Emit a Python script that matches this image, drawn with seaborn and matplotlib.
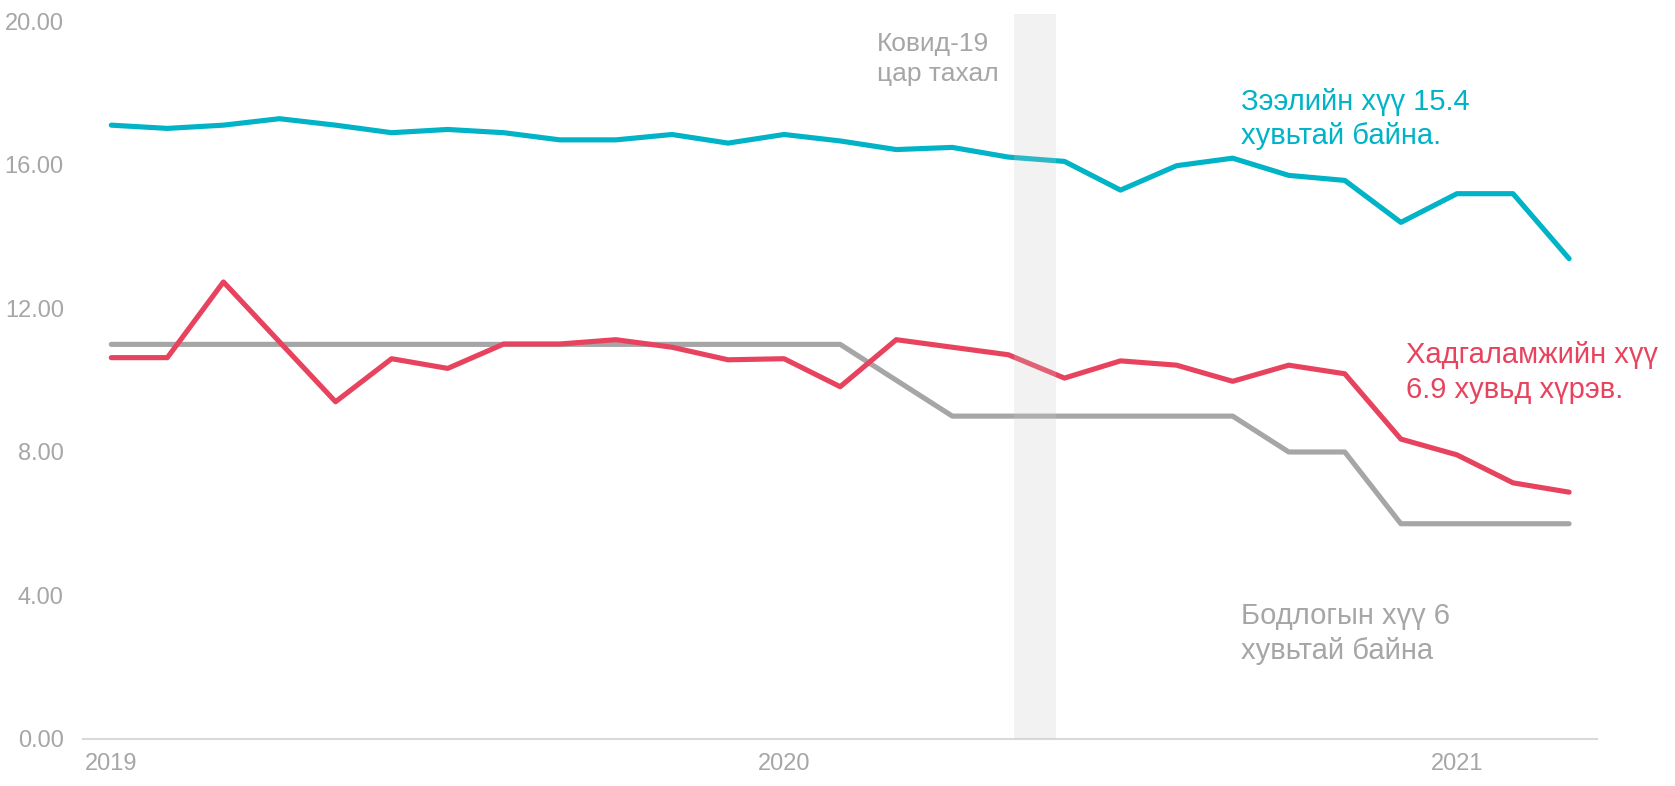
import numpy as np
import pandas as pd
import seaborn as sns
import matplotlib.pyplot as plt

# monthly, Jan 2019 .. Mar 2021
months = pd.date_range('2019-01-01', '2021-03-01', freq='MS').strftime('%Y-%m').tolist()
loan_rate = [17.11, 17.02, 17.11, 17.29, 17.11, 16.90, 16.99, 16.90, 16.70, 16.70,
             16.85, 16.61, 16.85, 16.67, 16.43, 16.49, 16.22, 16.10, 15.30, 15.98,
             16.19, 15.71, 15.57, 14.40, 15.20, 15.20, 13.39]
deposit_rate = [10.63, 10.63, 12.74, 11.07, 9.40, 10.60, 10.33, 11.01, 11.01, 11.13,
                10.92, 10.57, 10.60, 9.82, 11.13, 10.92, 10.71, 10.06, 10.54, 10.42,
                9.97, 10.42, 10.18, 8.36, 7.92, 7.14, 6.88]
policy_rate = [11, 11, 11, 11, 11, 11, 11, 11, 11, 11,
               11, 11, 11, 11, 10, 9, 9, 9, 9, 9,
               9, 8, 8, 6, 6, 6, 6]
year_ticks = ['2019', '2020', '2021']
yticks = [0, 4, 8, 12, 16, 20]

teal = '#00b3c6'
red = '#e8435e'
grey = '#a6a6a6'

df = pd.DataFrame({'idx': np.arange(len(months)), 'loan': loan_rate,
                   'deposit': deposit_rate, 'policy': policy_rate})
long = df.melt(id_vars='idx', var_name='series', value_name='rate')

sns.set_style('white')
plt.rcParams['font.family'] = ['Liberation Sans', 'DejaVu Sans']

fig = plt.figure(figsize=(16.75, 7.86), dpi=100)
ax = fig.add_axes([0.0497, 0.0598, 0.9038, 0.922])

sns.lineplot(data=long, x='idx', y='rate', hue='series',
             palette={'loan': teal, 'deposit': red, 'policy': grey},
             hue_order=['policy', 'deposit', 'loan'],
             linewidth=3.7, legend=False, ax=ax, solid_capstyle='round')

# covid band, drawn over the lines
ax.axvspan(16.1, 16.85, ymin=0, ymax=1, color='#cbcbcb', alpha=0.23, lw=0, zorder=5)

ax.set_xlim(-0.5, 26.5)
ax.set_ylim(0, 20.2)
ax.set_yticks(yticks)
ax.set_yticklabels([f'{v:.2f}' for v in yticks])
ax.set_xticks([months.index(y + '-01') for y in year_ticks])
ax.set_xticklabels(year_ticks)
ax.set_xlabel('')
ax.set_ylabel('')
ax.tick_params(axis='y', length=0, pad=14, labelsize=17, labelcolor=grey)
ax.tick_params(axis='x', length=0, pad=10, labelsize=17, labelcolor=grey)
for s in ['top', 'right', 'left']:
    ax.spines[s].set_visible(False)
ax.spines['bottom'].set_color('#d9d9d9')
ax.spines['bottom'].set_linewidth(1.5)

ax.text(13.66, 19.7, 'Ковид-19\nцар тахал', color='#a6a6a6', fontsize=19,
        va='top', ha='left', linespacing=1.3)
ax.text(20.15, 18.15, 'Зээлийн хүү 15.4\nхувьтай байна.', color=teal, fontsize=21,
        va='top', ha='left', linespacing=1.3)
ax.text(23.1, 11.08, 'Хадгаламжийн хүү\n6.9 хувьд хүрэв.', color=red, fontsize=21,
        va='top', ha='left', linespacing=1.3)
ax.text(20.15, 3.82, 'Бодлогын хүү 6\nхувьтай байна', color='#a6a6a6', fontsize=21,
        va='top', ha='left', linespacing=1.3)

fig.savefig('out.png', dpi=100)
